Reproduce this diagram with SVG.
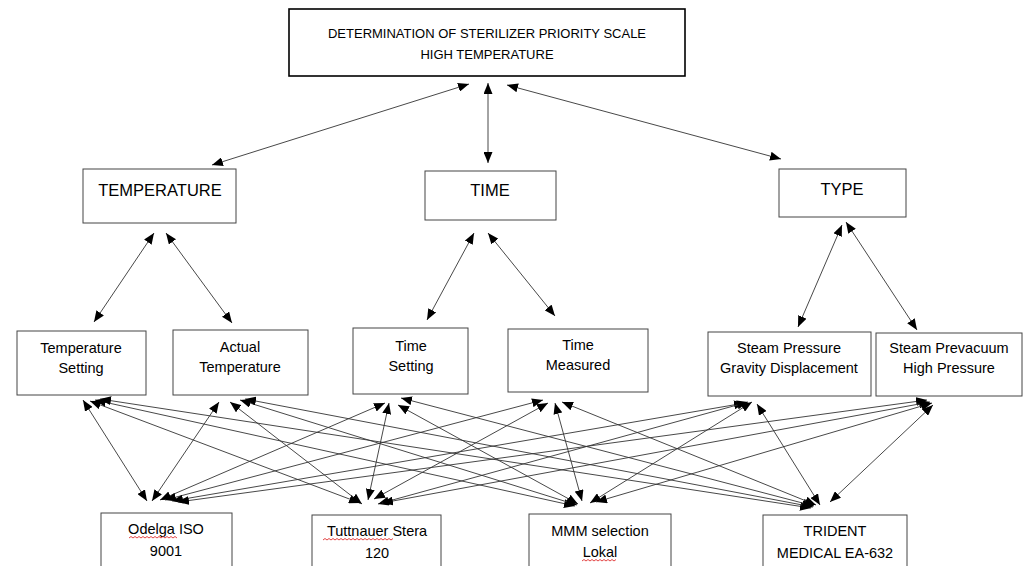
<svg xmlns="http://www.w3.org/2000/svg" width="1030" height="566" viewBox="0 0 1030 566">
<style>
.box{fill:#fff;stroke:#444;stroke-width:1}
.top{fill:#fff;stroke:#000;stroke-width:1.6}
.t{font-family:"Liberation Sans",Arial,sans-serif;fill:#000;text-anchor:middle}
.s13{font-size:13px}
.s16{font-size:16.5px}
.s14{font-size:14.5px}
.c line{stroke:#333;stroke-width:0.9;marker-start:url(#ah);marker-end:url(#ah)}
.sq{fill:none;stroke:#e03030;stroke-width:0.9}
</style>
<defs>
<marker id="ah" markerUnits="userSpaceOnUse" viewBox="0 0 11 9" refX="11" refY="4.5" markerWidth="11" markerHeight="9" orient="auto-start-reverse">
<path d="M0,0 L11,4.5 L0,9 z" fill="#000"/>
</marker>
</defs>
<rect width="1030" height="566" fill="#fff"/>
<g id="connectors" class="c">
<line x1="469" y1="84" x2="212" y2="165"/>
<line x1="488" y1="83" x2="488" y2="163"/>
<line x1="507" y1="85" x2="781" y2="159"/>
<line x1="154" y1="233" x2="94" y2="322"/>
<line x1="166" y1="233" x2="232" y2="323"/>
<line x1="474" y1="233" x2="427" y2="320"/>
<line x1="488" y1="233" x2="555" y2="316"/>
<line x1="842" y1="225" x2="798" y2="327"/>
<line x1="846" y1="222" x2="917" y2="330"/>
<line x1="83" y1="400" x2="147" y2="501"/>
<line x1="90" y1="401" x2="360" y2="503"/>
<line x1="95" y1="400" x2="575" y2="506"/>
<line x1="100" y1="399" x2="811" y2="508"/>
<line x1="219" y1="402" x2="152" y2="501"/>
<line x1="230" y1="402" x2="362" y2="504"/>
<line x1="240" y1="400" x2="577" y2="505"/>
<line x1="245" y1="399" x2="813" y2="507"/>
<line x1="385" y1="403" x2="160" y2="500"/>
<line x1="389" y1="403" x2="368" y2="500"/>
<line x1="398" y1="405" x2="578" y2="504"/>
<line x1="401" y1="398" x2="814" y2="506"/>
<line x1="543" y1="400" x2="165" y2="500"/>
<line x1="548" y1="403" x2="374" y2="499"/>
<line x1="555" y1="403" x2="582" y2="501"/>
<line x1="562" y1="402" x2="816" y2="505"/>
<line x1="745" y1="403" x2="172" y2="501"/>
<line x1="748" y1="402" x2="378" y2="504"/>
<line x1="752" y1="402" x2="590" y2="503"/>
<line x1="757" y1="404" x2="820" y2="505"/>
<line x1="927" y1="400" x2="178" y2="502"/>
<line x1="930" y1="402" x2="382" y2="503"/>
<line x1="932" y1="403" x2="596" y2="502"/>
<line x1="933" y1="405" x2="830" y2="502"/>
</g>
<g id="n-root"><rect class="top" x="289" y="9" width="396" height="67"/>
<text class="t s13" x="487" y="38">DETERMINATION OF STERILIZER PRIORITY SCALE</text>
<text class="t s13" x="487" y="59">HIGH TEMPERATURE</text></g>
<g id="n-temperature"><rect class="box" x="83" y="169" width="153" height="54"/>
<text class="t s16" x="160" y="196">TEMPERATURE</text></g>
<g id="n-time"><rect class="box" x="425" y="171" width="131" height="49"/>
<text class="t s16" x="490" y="196">TIME</text></g>
<g id="n-type"><rect class="box" x="779" y="169" width="127" height="48"/>
<text class="t s16" x="842" y="195">TYPE</text></g>
<g id="n-temp-setting"><rect class="box" x="17" y="331" width="129" height="64"/>
<text class="t s14" x="81" y="353">Temperature</text>
<text class="t s14" x="81" y="373">Setting</text></g>
<g id="n-actual-temp"><rect class="box" x="173" y="330" width="135" height="65"/>
<text class="t s14" x="240" y="352">Actual</text>
<text class="t s14" x="240" y="372">Temperature</text></g>
<g id="n-time-setting"><rect class="box" x="353" y="328" width="115" height="66"/>
<text class="t s14" x="411" y="351">Time</text>
<text class="t s14" x="411" y="371">Setting</text></g>
<g id="n-time-measured"><rect class="box" x="508" y="329" width="140" height="63"/>
<text class="t s14" x="578" y="350">Time</text>
<text class="t s14" x="578" y="370">Measured</text></g>
<g id="n-steam-gravity"><rect class="box" x="708" y="332" width="163" height="64"/>
<text class="t s14" x="789" y="353">Steam Pressure</text>
<text class="t s14" x="789" y="373">Gravity Displacement</text></g>
<g id="n-steam-prevacuum"><rect class="box" x="876" y="333" width="146" height="63"/>
<text class="t s14" x="949" y="353">Steam Prevacuum</text>
<text class="t s14" x="949" y="373">High Pressure</text></g>
<g id="n-odelga"><rect class="box" x="101" y="513" width="131" height="60"/>
<text class="t s14" x="166" y="534">Odelga ISO</text>
<text class="t s14" x="166" y="556">9001</text>
<path class="sq" d="M129,538 l2,-1.5 l2,1.5 l2,-1.5 l2,1.5 l2,-1.5 l2,1.5 l2,-1.5 l2,1.5 l2,-1.5 l2,1.5 l2,-1.5 l2,1.5 l2,-1.5 l2,1.5 l2,-1.5 l2,1.5 l2,-1.5 l2,1.5 l2,-1.5 l2,1.5 l2,-1.5 l2,1.5 l2,-1.5 l2,1.5"/></g>
<g id="n-tuttnauer"><rect class="box" x="312" y="515" width="129" height="60"/>
<text class="t s14" x="377" y="536">Tuttnauer Stera</text>
<text class="t s14" x="377" y="558">120</text>
<path class="sq" d="M323,540 l2,-1.5 l2,1.5 l2,-1.5 l2,1.5 l2,-1.5 l2,1.5 l2,-1.5 l2,1.5 l2,-1.5 l2,1.5 l2,-1.5 l2,1.5 l2,-1.5 l2,1.5 l2,-1.5 l2,1.5 l2,-1.5 l2,1.5 l2,-1.5 l2,1.5 l2,-1.5 l2,1.5 l2,-1.5 l2,1.5 l2,-1.5 l2,1.5 l2,-1.5 l2,1.5 l2,-1.5 l2,1.5 l2,-1.5 l2,1.5 l2,-1.5 l2,1.5 l2,-1.5"/></g>
<g id="n-mmm"><rect class="box" x="529" y="514" width="142" height="60"/>
<text class="t s14" x="600" y="536">MMM selection</text>
<text class="t s14" x="600" y="557">Lokal</text>
<path class="sq" d="M582,561 l2,-1.5 l2,1.5 l2,-1.5 l2,1.5 l2,-1.5 l2,1.5 l2,-1.5 l2,1.5 l2,-1.5 l2,1.5 l2,-1.5 l2,1.5 l2,-1.5 l2,1.5 l2,-1.5 l2,1.5 l2,-1.5"/></g>
<g id="n-trident"><rect class="box" x="763" y="515" width="144" height="60"/>
<text class="t s14" x="835" y="536">TRIDENT</text>
<text class="t s14" x="835" y="558">MEDICAL EA-632</text></g>
</svg>
